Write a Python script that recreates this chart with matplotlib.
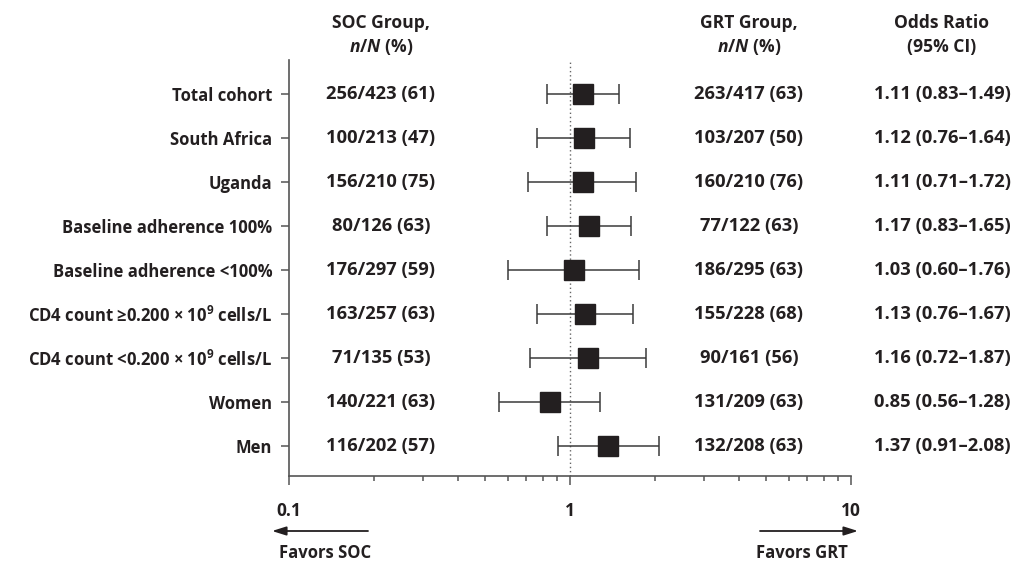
import matplotlib
matplotlib.use("Agg")
import matplotlib.pyplot as plt
import matplotlib.transforms as mtransforms
import numpy as np


subgroups = ["Total cohort", "South Africa", "Uganda", "Baseline adherence 100%",
             "Baseline adherence <100%", "CD4 count \u22650.200 \u00d7 10$^{9}$ cells/L",
             "CD4 count <0.200 \u00d7 10$^{9}$ cells/L", "Women", "Men"]
soc = ["256/423 (61)", "100/213 (47)", "156/210 (75)", "80/126 (63)", "176/297 (59)",
       "163/257 (63)", "71/135 (53)", "140/221 (63)", "116/202 (57)"]
grt = ["263/417 (63)", "103/207 (50)", "160/210 (76)", "77/122 (63)", "186/295 (63)",
       "155/228 (68)", "90/161 (56)", "131/209 (63)", "132/208 (63)"]
odds = [1.11, 1.12, 1.11, 1.17, 1.03, 1.13, 1.16, 0.85, 1.37]
ci_low = [0.83, 0.76, 0.71, 0.83, 0.60, 0.76, 0.72, 0.56, 0.91]
ci_high = [1.49, 1.64, 1.72, 1.65, 1.76, 1.67, 1.87, 1.28, 2.08]
xticks = [0.1, 1, 10]
xtick_labels = ["0.1", "1", "10"]

ink = "#231f20"
line_col = "#3a3a3a"

plt.rcParams["font.family"] = ["Open Sans", "DejaVu Sans"]
plt.rcParams["font.weight"] = "bold"
plt.rcParams["font.size"] = 12
plt.rcParams["text.color"] = ink
plt.rcParams["mathtext.fontset"] = "custom"
plt.rcParams["mathtext.rm"] = "Open Sans:bold"
plt.rcParams["mathtext.it"] = "Open Sans:italic:bold"
plt.rcParams["mathtext.bf"] = "Open Sans:bold"

W, H = 1015, 562
fig = plt.figure(figsize=(W/100, H/100), dpi=100)

# axes box in pixels: x 289..851, y 60..476
ax = fig.add_axes([289/W, 1-476/H, (851-289)/W, (476-60)/H])

rows = np.arange(len(subgroups))
odds = np.array(odds)
err = np.array([odds - np.array(ci_low), np.array(ci_high) - odds])

ax.errorbar(odds, rows, xerr=err, fmt="none", ecolor=line_col, elinewidth=1.1,
            capsize=7, capthick=1.1, zorder=2)
ax.plot(odds, rows, "s", color=ink, markersize=15, zorder=3)
ax.axvline(1, color="#666666", linestyle=(0, (1, 2)), linewidth=1, zorder=1)

ax.set_xscale("log")
ax.set_xlim(0.1, 10)
ax.set_ylim(8.68, -0.77)
ax.set_xticks(xticks, xtick_labels)
ax.set_yticks(rows, subgroups)

for s in ["top", "right"]:
    ax.spines[s].set_visible(False)
for s in ["left", "bottom"]:
    ax.spines[s].set_color("#555555")
    ax.spines[s].set_linewidth(1.2)

ax.tick_params(axis="y", length=6, width=1.1, color="#555555", pad=6, labelsize=12, labelcolor=ink)
ax.tick_params(axis="x", which="major", length=6.5, width=1.1, color="#555555", pad=12,
               labelsize=12.5, labelcolor=ink)
ax.tick_params(axis="x", which="minor", length=3.8, width=1.1, color="#555555")
ax.xaxis.set_minor_formatter(matplotlib.ticker.NullFormatter())

# columns of numbers, x in figure fraction, y in data rows
num_size = 13.2
trans = mtransforms.blended_transform_factory(fig.transFigure, ax.transData)
for i in rows:
    ax.text(381/W, i, soc[i], transform=trans, ha="center", va="center", fontsize=num_size)
    ax.text(749/W, i, grt[i], transform=trans, ha="center", va="center", fontsize=num_size)
    ax.text(942/W, i, f"{odds[i]:.2f} ({ci_low[i]:.2f}\u2013{ci_high[i]:.2f})",
            transform=trans, ha="center", va="center", fontsize=num_size)

# headers
hs = 12.6
fig.text(381/W, 1-23/H, "SOC Group,", ha="center", va="center", fontsize=hs)
fig.text(381/W, 1-47/H, r"$\mathit{n}$/$\mathit{N}$ (%)", ha="center", va="center", fontsize=hs)
fig.text(749/W, 1-23/H, "GRT Group,", ha="center", va="center", fontsize=hs)
fig.text(749/W, 1-47/H, r"$\mathit{n}$/$\mathit{N}$ (%)", ha="center", va="center", fontsize=hs)
fig.text(942/W, 1-23/H, "Odds Ratio", ha="center", va="center", fontsize=hs)
fig.text(942/W, 1-47/H, "(95% CI)", ha="center", va="center", fontsize=hs)

# favors arrows
arrow = dict(arrowstyle="-|>,head_length=0.7,head_width=0.22", color=ink, lw=1.3,
             shrinkA=0, shrinkB=0, mutation_scale=12)
fig.patches.append(matplotlib.patches.FancyArrowPatch((368/W, 1-531/H), (272/W, 1-531/H),
                   transform=fig.transFigure, **arrow))
fig.patches.append(matplotlib.patches.FancyArrowPatch((760/W, 1-531/H), (858/W, 1-531/H),
                   transform=fig.transFigure, **arrow))
fig.text(279/W, 1-553/H, "Favors SOC", ha="left", va="center")
fig.text(848/W, 1-553/H, "Favors GRT", ha="right", va="center")

fig.savefig("out.png", dpi=100, facecolor="white")
